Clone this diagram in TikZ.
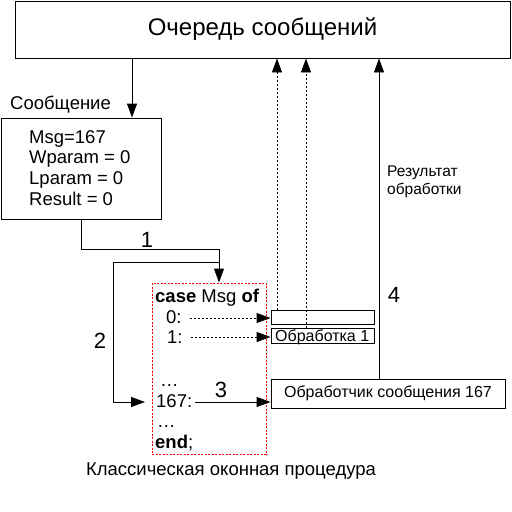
\documentclass[tikz,border=0pt]{standalone}
\usepackage{fontspec}
\setmainfont{Liberation Sans}
\usetikzlibrary{arrows.meta,positioning,calc}

\tikzset{
  box/.style={draw,line width=0.9pt,inner sep=0pt},
  arr/.style={line width=0.9pt,-{Triangle[length=14pt,width=10pt]}},
  dotarr/.style={arr,dash pattern=on 2pt off 2pt},
  txt/.style={anchor=base west,inner sep=0pt,font=\fontsize{18.5}{21}\selectfont},
  small/.style={anchor=base west,inner sep=0pt,font=\fontsize{16}{18}\selectfont},
  num/.style={anchor=base,inner sep=0pt,font=\fontsize{22}{24}\selectfont}
}

\begin{document}
\begin{tikzpicture}[x=1pt,y=-1pt]
\useasboundingbox (0,0) rectangle (512,512);

% Message queue
\node[box,minimum width=495pt,minimum height=57pt,font=\fontsize{24}{26}\selectfont] (queue) at (262.5,29.5) {Очередь сообщений};

% Message
\node[txt] (msglabel) at (10,109) {Сообщение};
\node[box,minimum width=160pt,minimum height=101pt] (msg) at (81,168.5) {};
\node[txt] (mline1) at (29,143) {Msg=167};
\node[txt] (mline2) at (29,163.5) {Wparam = 0};
\node[txt] (mline3) at (29,184) {Lparam = 0};
\node[txt] (mline4) at (29,205) {Result = 0};

% Window procedure
\node[draw=red,line width=0.9pt,dash pattern=on 2pt off 1.5pt,minimum width=114pt,minimum height=171pt,inner sep=0pt] (wndproc) at (209,368.5) {};
\node[txt] (lcase) at (155,302) {\textbf{case} Msg \textbf{of}};
\node[txt] (l0) at (166,323) {0:};
\node[txt] (l1) at (167,343) {1:};
\node[txt] (ldots1) at (160,386) {\dots};
\node[txt] (l167) at (156,407) {167:};
\node[txt] (ldots2) at (157,427) {\dots};
\node[txt] (lend) at (155,448) {\textbf{end};};
\node[txt,anchor=base] (caption) at (231,475) {Классическая оконная процедура};

% Handlers
\node[box,minimum width=103pt,minimum height=14pt] (box0) at (322.5,317) {};
\node[box,minimum width=103pt,minimum height=15pt] (box1) at (322.5,335.5) {};
\node[small] (box1text) at (275,341) {Обработка 1};
\node[box,minimum width=234pt,minimum height=29pt,font=\fontsize{16}{18}\selectfont] (handler) at (388,393.5) {Обработчик сообщения 167};

% Labels
\node[num] (n1) at (147,247) {1};
\node[num] (n2) at (100,348) {2};
\node[num] (n3) at (221,397) {3};
\node[num] (n4) at (394,302) {4};
\node[anchor=base west,inner sep=0pt,align=left,font=\fontsize{15.5}{18}\selectfont] (result) at (387,194) {Результат\\обработки};

% Connectors
\coordinate (c1) at (219,249);
\coordinate (c2) at (219,262);
\coordinate (c2b) at (113,402);
\coordinate (a0) at ($(l0.base east)+(8pt,5pt)$);
\coordinate (a1) at ($(l1.base east)+(8pt,6pt)$);
\coordinate (a167) at ($(l167.base east)+(3pt,5pt)$);
\draw[arr] (queue.south -| 132,0) -- (msg.north -| 132,0);
\draw[line width=0.9pt] (msg.south) |- (c1);
\draw[arr] (c1) -- (wndproc.north -| c1);
\draw[arr] (c2) -| (c2b) -- (145,402);
\draw[arr] (a167) -- (a167 -| handler.west);
\draw[dotarr] (a0) -- (a0 -| box0.west);
\draw[dotarr] (a1) -- (a1 -| box1.west);
\draw[dotarr] (box0.north -| 277,0) -- (queue.south -| 277,0);
\draw[dotarr] (box1.north -| 306,0) -- (queue.south -| 306,0);
\draw[arr] (handler.north -| 379,0) -- (queue.south -| 379,0);
\end{tikzpicture}
\end{document}
